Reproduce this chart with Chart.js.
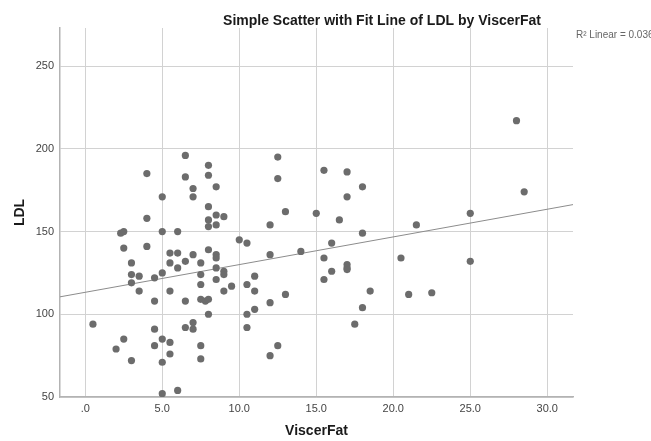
<!DOCTYPE html>
<html>
<head>
<meta charset="utf-8">
<script src="https://cdn.jsdelivr.net/npm/chart.js@4.4.1/dist/chart.umd.min.js"></script>
<style>
html,body{margin:0;padding:0;background:#ffffff;}
#wrap{width:651px;height:441px;position:relative;}
</style>
</head>
<body>
<div id="wrap"><canvas id="c" width="651" height="441"></canvas></div>
<script>
// ---- data ----
const viscerFat = [6.5,8,4,6.5,8,7,8.5,7,5,8,4,8.5,9,8,8,8.5,2.3,2.5,5,6,10,10.5,2.5,4,5.5,6,8,7,8.5,8.5,3,5.5,6.5,7.5,6,8.5,9,9,3,3.5,4.5,5,7.5,11,3,7.5,8.5,10.5,9.5,3.5,5.5,9,11,4.5,6.5,7.5,7.8,8,11,10.5,8,0.5,7,7,6.5,4.5,10.5,2.5,5,5.5,2,4.5,7.5,5.5,3,5,7.5,5,6,12.5,12.5,15.5,17,18,17,13,15,16.5,12,21.5,18,16,12,14,15.5,20.5,17,17,17,16,15.5,12,13,18.5,18,21,22.5,17.5,12.5,12,28,28.5,25,25];
const ldl = [196,190,185,183,184,176,177,171,171,165,158,160,159,157,153,154,149,150,150,150,145,143,140,141,137,137,139,136,136,134,131,131,132,131,128,128,126,124,124,123,122,125,124,123,119,118,121,118,117,114,114,114,114,108,108,109,108,109,103,100,100,94,95,91,92,91,92,85,85,83,79,81,81,76,72,71,73,52,54,195,182,187,186,177,171,162,161,157,154,154,149,143,136,138,134,134,130,128,127,126,121,107,112,114,104,112,113,94,81,75,217,174,161,132];
const xTickValues = [0,5,10,15,20,25,30];
const xTickLabels = ['.0','5.0','10.0','15.0','20.0','25.0','30.0'];
const yTickValues = [50,100,150,200,250];
const chartTitle = 'Simple Scatter with Fit Line of LDL by ViscerFat';
const fitLabel = 'R\u00B2 Linear = 0.036';
const xTitle = 'ViscerFat';
const yTitle = 'LDL';
const xMin = -1.64, xMax = 31.67, yMin = 50, yMax = 273;

// ---- least-squares fit computed from the points ----
const n = viscerFat.length;
const mx = viscerFat.reduce((a,b)=>a+b,0)/n;
const my = ldl.reduce((a,b)=>a+b,0)/n;
let sxy = 0, sxx = 0;
for (let i=0;i<n;i++){ sxy += (viscerFat[i]-mx)*(ldl[i]-my); sxx += (viscerFat[i]-mx)**2; }
const slope = sxy/sxx;
const intercept = my - slope*mx;

const points = viscerFat.map((v,i)=>({x:v, y:ldl[i]}));
const fitPoints = [xMin, xMax].map(v=>({x:v, y:intercept + slope*v}));

const FONT = '"Liberation Sans", Arial, sans-serif';

const textPlugin = {
  id: 'texts',
  afterDraw(chart){
    const ctx = chart.ctx;
    const a = chart.chartArea;
    ctx.save();
    ctx.font = 'bold 14px ' + FONT;
    ctx.fillStyle = '#1a1a1a';
    ctx.textAlign = 'center';
    ctx.textBaseline = 'middle';
    ctx.fillText(chartTitle, 382, 21);
    ctx.font = '10px ' + FONT;
    ctx.fillStyle = '#666666';
    ctx.textAlign = 'left';
    ctx.fillText(fitLabel, a.right + 3, a.top + 7);
    ctx.restore();
  }
};

new Chart(document.getElementById('c'), {
  data: {
    datasets: [
      {
        type: 'scatter',
        data: points,
        pointRadius: 3.6,
        pointHoverRadius: 3.6,
        backgroundColor: '#6c6c6c',
        borderWidth: 0,
        order: 1
      },
      {
        type: 'line',
        data: fitPoints,
        borderColor: '#8c8c8c',
        borderWidth: 1,
        pointRadius: 0,
        fill: false,
        order: 2
      }
    ]
  },
  options: {
    responsive: false,
    animation: false,
    devicePixelRatio: 1,
    layout: { padding: { top: 28, right: 78, bottom: 0, left: 0 } },
    plugins: { legend: { display: false }, tooltip: { enabled: false }, title: { display: false } },
    scales: {
      x: {
        type: 'linear',
        min: xMin, max: xMax,
        afterBuildTicks: s => { s.ticks = xTickValues.map(v=>({value:v})); },
        afterFit: s => { s.height = 44; },
        ticks: {
          callback: v => xTickLabels[xTickValues.indexOf(v)],
          font: { size: 11, family: FONT },
          color: '#444444',
          padding: 5,
          maxRotation: 0,
          autoSkip: false
        },
        grid: { color: '#d2d2d2', lineWidth: 1, drawTicks: false },
        border: { color: '#b3b3b3', width: 1.5 },
        title: { display: true, text: xTitle, font: { size: 14, weight: 'bold', family: FONT }, color: '#1a1a1a', padding: { top: 4, bottom: 1 } }
      },
      y: {
        type: 'linear',
        min: yMin, max: yMax,
        afterBuildTicks: s => { s.ticks = yTickValues.map(v=>({value:v})); },
        afterFit: s => { s.width = 60; },
        ticks: {
          font: { size: 11, family: FONT },
          color: '#444444',
          padding: 6,
          autoSkip: false
        },
        grid: { color: '#d2d2d2', lineWidth: 1, drawTicks: false },
        border: { color: '#b3b3b3', width: 1.5 },
        title: { display: true, text: yTitle, font: { size: 14, weight: 'bold', family: FONT }, color: '#1a1a1a', padding: { top: 12, bottom: 0 } }
      }
    }
  },
  plugins: [textPlugin]
});
</script>
</body>
</html>
